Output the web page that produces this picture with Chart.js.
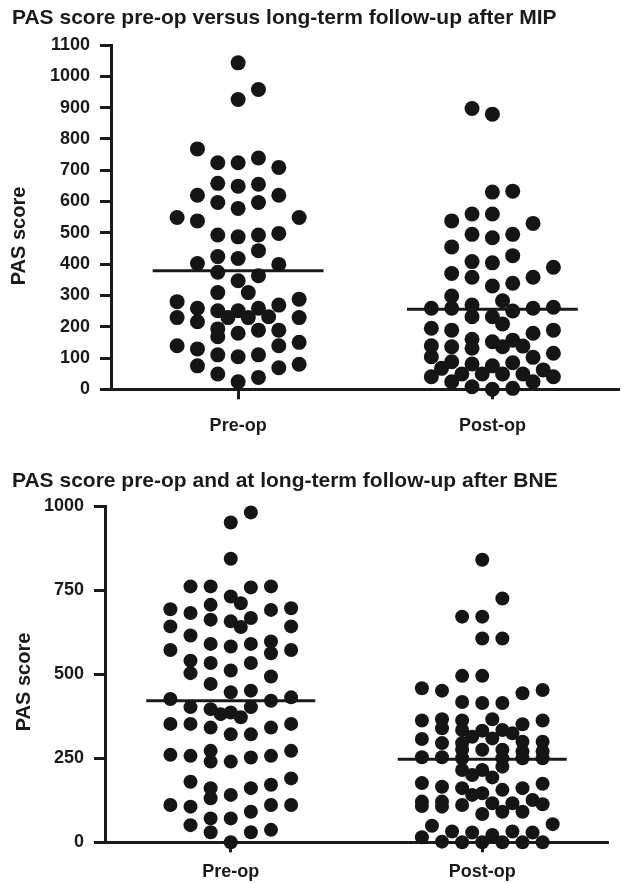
<!DOCTYPE html>
<html>
<head>
<meta charset="utf-8">
<script src="https://cdn.jsdelivr.net/npm/chart.js@4.4.1/dist/chart.umd.min.js"></script>
<style>
  body { margin: 0; background: #fff; }
  canvas { display: block; }
</style>
</head>
<body>
<canvas id="chartMIP" width="627" height="445"></canvas>
<canvas id="chartBNE" width="627" height="438"></canvas>
<script>
const categories = ['Pre-op', 'Post-op'];
const laneStep = 0.08;   // separación horizontal de los puntos (carriles)
const meanHalfWidth = 0.336;

// MIP, pre-op
const mipPreValues = [1043, 958, 926, 768, 724, 724, 739, 709, 658, 649, 655, 620, 620, 597, 578, 597, 549, 538, 549,
  493, 487, 493, 498, 443, 424, 418, 402, 399, 374, 363, 347, 309, 309, 280, 288, 259, 251, 251, 259, 269,
  229, 229, 232, 229, 216, 229, 193, 168, 179, 189, 189, 139, 129, 139, 150, 110, 104, 110, 75, 69, 80, 49, 38, 24];
const mipPreLanes = [0, 1, 0, -2, -1, 0, 1, 2, -1, 0, 1, -2, 2, -1, 0, 1, -3, -2, 3,
  -1, 0, 1, 2, 1, -1, 0, -2, 2, -1, 1, 0, -1, 0.5, -3, 3, -2, -1, 0, 1, 2,
  -0.5, 0.5, 1.5, -3, -2, 3, -1, -1, 0, 1, 2, -3, -2, 2, 3, -1, 0, 1, -2, 2, 3, -1, 1, 0];

// MIP, post-op
const mipPostValues = [897, 879, 630, 633, 538, 560, 560, 530, 495, 484, 495, 455, 408, 404, 427, 390, 370, 358, 330, 339, 358,
  298, 283, 259, 259, 269, 250, 259, 262, 232, 232, 209, 195, 189, 179, 189, 160, 152, 157, 139, 136, 131, 136, 138,
  104, 88, 81, 75, 85, 102, 115, 67, 62, 40, 49, 49, 49, 49, 40, 24, 24, 8, 0, 3];
const mipPostLanes = [-1, 0, 0, 1, -2, -1, 0, 2, -1, 0, 1, -2, -1, 0, 1, 3, -2, -1, 0, 1, 2,
  -2, 0.5, -3, -2, -1, 1, 2, 3, -1, 0, 0.5, -3, -2, 2, 3, -1, 0, 1, -3, -2, -1, 0.5, 1.5,
  -3, -2, -1, 0, 1, 2, 3, -2.5, 2.5, -3, -1.5, -0.5, 0.5, 1.5, 3, -2, 2, -1, 0, 1];

// BNE, pre-op
const bnePreValues = [981, 951, 843, 761, 761, 758, 761, 731, 711, 706, 693, 682, 691, 696, 662, 657, 667, 640, 642, 642,
  615, 572, 590, 582, 590, 597, 562, 572, 540, 533, 533, 511, 503, 493, 471, 446, 451, 426, 421, 431,
  402, 396, 402, 381, 386, 372, 352, 352, 341, 341, 352, 321, 321, 272, 272, 260, 257, 240, 240, 252, 257,
  180, 190, 161, 161, 171, 141, 131, 111, 106, 111, 111, 91, 71, 71, 51, 30, 30, 37, 0];
const bnePreLanes = [1, 0, 0, -2, -1, 1, 2, 0, 0.5, -1, -3, -2, 2, 3, -1, 0, 1, 0.5, -3, 3,
  -2, -3, -1, 0, 1, 2, 2, 3, -2, -1, 1, 0, -2, 2, -1, 0, 1, -3, 2, 3,
  -2, -1, 1, -0.5, 0, 0.5, -3, -2, -1, 2, 3, 0, 1, -1, 3, -3, -2, -1, 0, 1, 2,
  -2, 3, -1, 1, 2, 0, -1, -3, -2, 2, 3, 1, -1, 0, -2, -1, 1, 2, 0];

// BNE, post-op
const bnePostValues = [840, 725, 671, 671, 606, 606, 495, 495, 458, 451, 443, 453, 417, 414, 414,
  362, 366, 339, 362, 334, 366, 351, 362, 314, 332, 334, 324, 309, 307, 295, 295, 299, 299,
  275, 275, 275, 253, 253, 270, 270, 250, 250, 250, 250, 215, 215, 225, 200, 193,
  176, 165, 174, 161, 146, 156, 161, 141, 121, 121, 111, 106, 116, 116, 126, 113, 108, 91, 91, 84,
  49, 54, 32, 29, 22, 32, 29, 15, 2, 0, 0, 0, 0, 0];
const bnePostLanes = [0, 1, -1, 0, 0, 1, -1, 0, -3, -2, 2, 3, -1, 0, 1,
  -3, -2, -2, -1, -1, 0.5, 2, 3, -0.5, 0, 1, 1.5, 0.5, -3, -2, -1, 2, 3,
  -1, 0, 1, -3, -2, 2, 3, -1, 1, 2, 3, -1, 0, 1, -0.5, 0.5,
  -3, -2, 3, -1, 0, 1, 2, -0.5, -3, -2, -1, -2, 0.5, 1.5, 2.5, 3, -3, 1, 2, 0,
  -2.5, 3.5, -1.5, -0.5, 0.5, 1.5, 2.5, -3, -2, -1, 0, 1, 2, 3];

const mipMeans = [379, 256];
const bneMeans = [421, 247];

const mipYMax = 1100, mipYStep = 100;
const bneYMax = 1000, bneYStep = 250;

const fuente = '"Liberation Sans", Arial, Helvetica, sans-serif';
const negro = '#1a1a1a';

function puntos(grupo, valores, carriles) {
  return valores.map((v, i) => ({ x: grupo + carriles[i] * laneStep, y: v }));
}

function lineaMedia(grupo, media) {
  return [{ x: grupo - meanHalfWidth, y: media }, { x: grupo + meanHalfWidth, y: media }];
}

// titulos dibujados a mano
const textos = {
  id: 'textos',
  afterDraw(chart, args, opts) {
    const c = chart.ctx;
    c.save();
    c.fillStyle = negro;
    c.textBaseline = 'alphabetic';
    c.textAlign = 'left';
    c.font = 'bold 21px ' + fuente;
    c.fillText(opts.title, opts.titleX, opts.titleY);
    c.translate(opts.yTitleX, opts.yTitleY);
    c.rotate(-Math.PI / 2);
    c.textAlign = 'center';
    c.font = 'bold 20px ' + fuente;
    c.fillText('PAS score', 0, 0);
    c.restore();
  }
};

function crearGrafico(id, pre, post, medias, yMax, yStep, radio, cfg) {
  return new Chart(document.getElementById(id), {
    type: 'scatter',
    data: {
      datasets: [
        { data: pre, backgroundColor: '#151515', borderWidth: 0, pointRadius: radio, pointHoverRadius: radio, clip: false },
        { data: post, backgroundColor: '#151515', borderWidth: 0, pointRadius: radio, pointHoverRadius: radio, clip: false },
        { type: 'line', data: lineaMedia(1, medias[0]), borderColor: negro, borderWidth: 3, pointRadius: 0, showLine: true, clip: false },
        { type: 'line', data: lineaMedia(2, medias[1]), borderColor: negro, borderWidth: 3, pointRadius: 0, showLine: true, clip: false }
      ]
    },
    options: {
      responsive: false,
      animation: false,
      events: [],
      layout: { padding: { left: 0, top: cfg.top, right: cfg.right, bottom: 0 } },
      plugins: {
        legend: { display: false },
        tooltip: { enabled: false },
        textos: cfg.textos
      },
      scales: {
        x: {
          type: 'linear',
          min: 0.5,
          max: 2.5,
          afterBuildTicks: (s) => { s.ticks = [{ value: 1 }, { value: 2 }]; },
          afterFit: (s) => { s.height = cfg.xHeight; },
          ticks: {
            callback: (v) => categories[v - 1],
            autoSkip: false,
            maxRotation: 0,
            padding: cfg.xPad,
            color: negro,
            font: { family: fuente, size: 18, weight: 'bold' }
          },
          grid: { drawOnChartArea: false, tickLength: 10, tickWidth: 3, tickColor: negro },
          border: { display: true, width: 3, color: negro }
        },
        y: {
          min: 0,
          max: yMax,
          afterFit: (s) => { s.width = cfg.yWidth; },
          ticks: {
            stepSize: yStep,
            callback: (v) => String(v),
            padding: 10,
            color: negro,
            font: { family: fuente, size: 18, weight: 'bold' }
          },
          grid: { drawOnChartArea: false, tickLength: 11, tickWidth: 3, tickColor: negro },
          border: { display: true, width: 3, color: negro }
        }
      }
    },
    plugins: [textos]
  });
}

const graficoMIP = crearGrafico('chartMIP',
  puntos(1, mipPreValues, mipPreLanes), puntos(2, mipPostValues, mipPostLanes),
  mipMeans, mipYMax, mipYStep, 7.5,
  { top: 45, right: 0, xHeight: 55.7, xPad: 16, yWidth: 111,
    textos: { title: 'PAS score pre-op versus long-term follow-up after MIP', titleX: 12, titleY: 24, yTitleX: 25, yTitleY: 236 } });

const graficoBNE = crearGrafico('chartBNE',
  puntos(1, bnePreValues, bnePreLanes), puntos(2, bnePostValues, bnePostLanes),
  bneMeans, bneYMax, bneYStep, 7,
  { top: 61, right: 19, xHeight: 40.7, xPad: 9, yWidth: 105,
    textos: { title: 'PAS score pre-op and at long-term follow-up after BNE', titleX: 12, titleY: 42, yTitleX: 30, yTitleY: 237 } });
</script>
</body>
</html>
